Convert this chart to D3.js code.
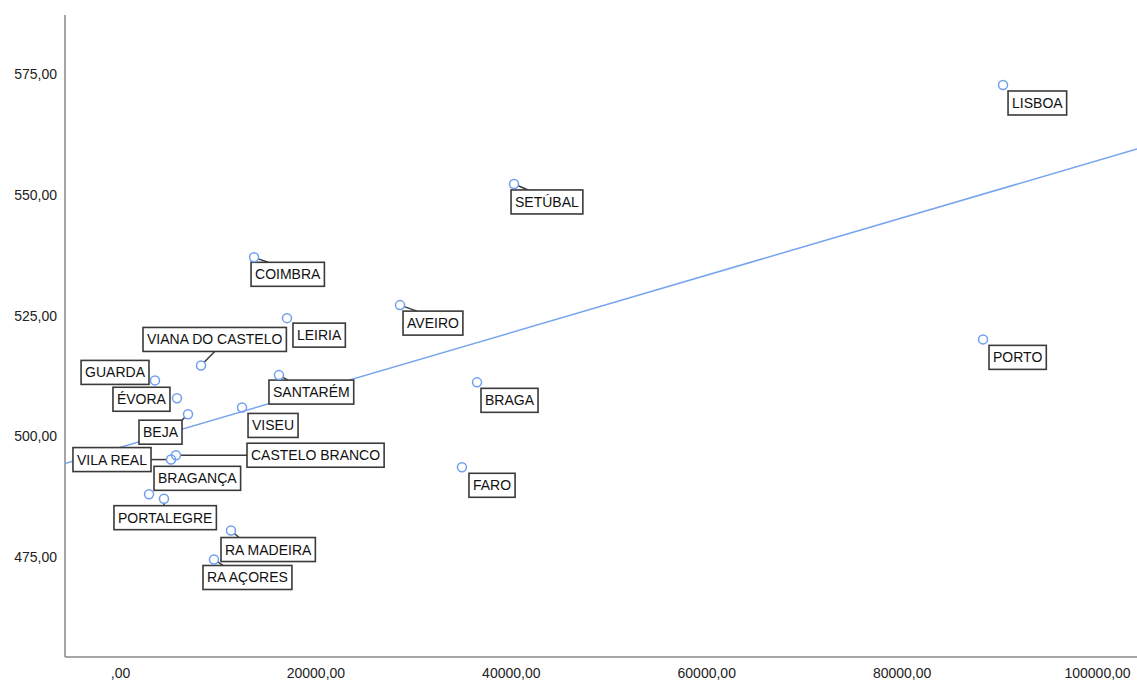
<!DOCTYPE html>
<html>
<head>
<meta charset="utf-8">
<script src="https://cdn.jsdelivr.net/npm/d3@7"></script>
<style>
  body { margin: 0; background: #fff; }
  text { font-family: "Liberation Sans", Arial, sans-serif; }
</style>
</head>
<body>
<div id="chart"></div>
<script>
// districts, x value and y value
const districts = ["LISBOA", "SETÚBAL", "COIMBRA", "LEIRIA", "AVEIRO", "VIANA DO CASTELO",
  "GUARDA", "ÉVORA", "BEJA", "SANTARÉM", "VISEU", "BRAGA", "PORTO", "FARO",
  "CASTELO BRANCO", "VILA REAL", "BRAGANÇA", "PORTALEGRE", "RA MADEIRA", "RA AÇORES"];
const xValues = [90380, 40330, 13720, 17090, 28660, 8290,
  3580, 5830, 6960, 16270, 12490, 36540, 88330, 35000,
  5730, 5220, 2970, 4500, 11360, 9620];
const yValues = [572.8, 552.3, 537.1, 524.5, 527.2, 514.7,
  511.6, 507.9, 504.6, 512.7, 506.0, 511.2, 520.1, 493.6,
  496.1, 495.2, 488.0, 487.1, 480.5, 474.5];
const xTicks = [0, 20000, 40000, 60000, 80000, 100000];
const yTicks = [475, 500, 525, 550, 575];

// label box placement relative to the point: [dx, dy, anchor, leader]
// leader: null = none, "near" = nearest spot, "bottom" = bottom centre, number = spot on top edge
const labelPlace = {
  "LISBOA": [5, 6, "start", null], "SETÚBAL": [-3, 6, "start", 17], "COIMBRA": [-3, 5, "start", 17],
  "LEIRIA": [6, 5, "start", null], "AVEIRO": [3, 6, "start", 14], "VIANA DO CASTELO": [-58, -38, "start", "bottom"],
  "GUARDA": [-6, -20, "end", null], "ÉVORA": [-7, -11, "end", null], "BEJA": [-6, 6, "end", "near"],
  "SANTARÉM": [-10, 5, "start", 19], "VISEU": [6, 6, "start", null], "BRAGA": [4, 6, "start", null],
  "PORTO": [6, 6, "start", null], "FARO": [7, 6, "start", null], "CASTELO BRANCO": [71, -12, "start", "near"],
  "VILA REAL": [-20, -12, "end", "near"], "BRAGANÇA": [5, -28, "start", null], "PORTALEGRE": [-50, 7, "start", "near"],
  "RA MADEIRA": [-10, 7, "start", 18], "RA AÇORES": [-11, 6, "start", 20]
};

const width = 1137, height = 682;
const plotLeft = 65, plotRight = 1137, plotTop = 15, plotBottom = 657;

const svg = d3.select("#chart").append("svg")
  .attr("width", width)
  .attr("height", height);

const x = d3.scaleLinear().domain([-5630, 104090]).range([plotLeft, plotRight]);
const y = d3.scaleLinear().domain([454.3, 587.3]).range([plotBottom, plotTop]);

const fmt = v => {
  let s = d3.format(".2f")(v).replace(".", ",");
  if (s.startsWith("0,")) s = s.slice(1);
  return s;
};

// axes
const xAxis = svg.append("g")
  .attr("transform", `translate(0,${plotBottom})`)
  .call(d3.axisBottom(x).tickValues(xTicks).tickSize(0).tickPadding(11).tickFormat(fmt));
xAxis.select(".domain").attr("stroke", "#888").attr("stroke-width", 1.5)
  .attr("d", `M${plotLeft},0H${plotRight}`);
xAxis.selectAll("text").attr("font-size", 14).attr("fill", "#222")
  .attr("font-family", "Liberation Sans, Arial, sans-serif");

const yAxis = svg.append("g")
  .attr("transform", `translate(${plotLeft},0)`)
  .call(d3.axisLeft(y).tickValues(yTicks).tickSize(0).tickPadding(8).tickFormat(fmt));
yAxis.select(".domain").attr("stroke", "#888").attr("stroke-width", 1.5)
  .attr("d", `M0,${plotTop}V${plotBottom}`);
yAxis.selectAll("text").attr("font-size", 14).attr("fill", "#222")
  .attr("font-family", "Liberation Sans, Arial, sans-serif");

// least squares fit line
const mx = d3.mean(xValues), my = d3.mean(yValues);
const sxy = d3.sum(xValues, (v, i) => (v - mx) * (yValues[i] - my));
const sxx = d3.sum(xValues, v => (v - mx) * (v - mx));
const slope = sxy / sxx, intercept = my - slope * mx;
const xd = x.domain();

svg.append("clipPath").attr("id", "plot")
  .append("rect").attr("x", plotLeft).attr("y", plotTop)
  .attr("width", plotRight - plotLeft).attr("height", plotBottom - plotTop);

svg.append("line")
  .attr("clip-path", "url(#plot)")
  .attr("x1", x(xd[0])).attr("y1", y(intercept + slope * xd[0]))
  .attr("x2", x(xd[1])).attr("y2", y(intercept + slope * xd[1]))
  .attr("stroke", "#76a4ee")
  .attr("stroke-width", 1.5);

// labels
const points = districts.map((name, i) => ({ name, cx: x(xValues[i]), cy: y(yValues[i]) }));
const labels = svg.append("g");
const r = 4.5;

points.forEach(p => {
  const [dx, dy, anchor, leader] = labelPlace[p.name];
  const g = labels.append("g");
  const rect = g.append("rect");
  const t = g.append("text").text(p.name)
    .attr("font-size", 14).attr("fill", "#111");
  const w = t.node().getComputedTextLength() + 8;
  const h = 24;
  const bx = anchor === "end" ? p.cx + dx - w : p.cx + dx;
  const by = p.cy + dy;
  rect.attr("x", bx).attr("y", by).attr("width", w).attr("height", h)
    .attr("fill", "#fff").attr("stroke", "#3a3a3a").attr("stroke-width", 1.6);
  t.attr("x", bx + 4).attr("y", by + 17);

  if (leader === null) return;
  let nx, ny;
  if (leader === "near") {
    nx = Math.max(bx, Math.min(p.cx, bx + w));
    ny = Math.max(by, Math.min(p.cy, by + h));
  } else if (leader === "bottom") {
    nx = bx + w / 2; ny = by + h;
  } else {
    nx = bx + leader; ny = by;
  }
  const d = Math.hypot(nx - p.cx, ny - p.cy);
  if (d > r) {
    labels.insert("line", ":first-child")
      .attr("x1", p.cx + (nx - p.cx) / d * r).attr("y1", p.cy + (ny - p.cy) / d * r)
      .attr("x2", nx).attr("y2", ny)
      .attr("stroke", "#3a3a3a").attr("stroke-width", 1.5);
  }
});

// points
svg.append("g").selectAll("circle")
  .data(points)
  .join("circle")
  .attr("cx", d => d.cx)
  .attr("cy", d => d.cy)
  .attr("r", r)
  .attr("fill", "none")
  .attr("stroke", "#6f9fec")
  .attr("stroke-width", 1.5);
</script>
</body>
</html>
